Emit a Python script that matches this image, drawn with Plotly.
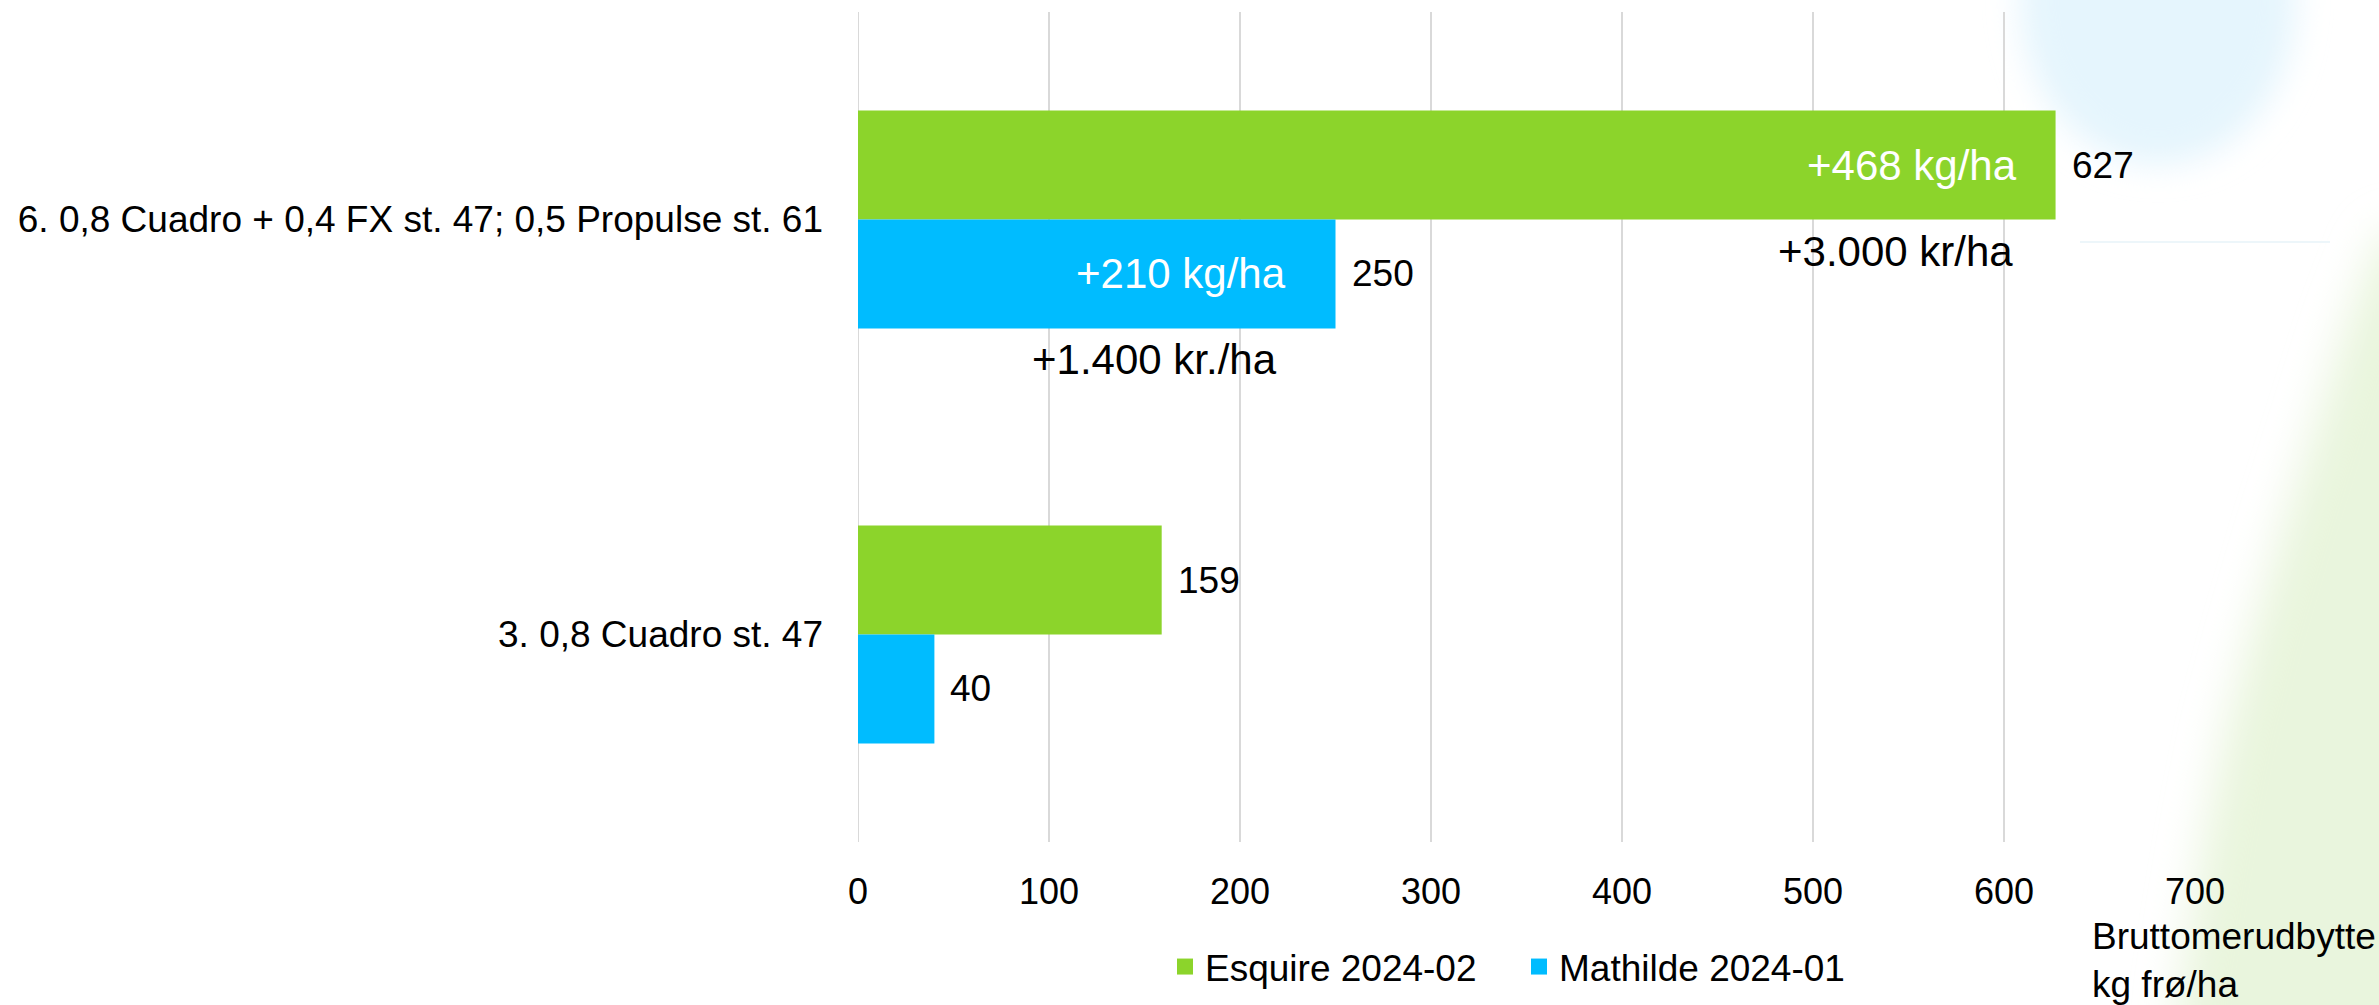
import base64
import plotly.graph_objects as go

# ---------------- data ----------------
categories = ["6. 0,8 Cuadro + 0,4 FX st. 47; 0,5 Propulse st. 61", "3. 0,8 Cuadro st. 47"]
series_names = ["Esquire 2024-02", "Mathilde 2024-01"]
esquire_values = [627, 159]
mathilde_values = [250, 40]
esquire_gain_labels = ["+468 kg/ha", ""]
mathilde_gain_labels = ["+210 kg/ha", ""]
esquire_kr_labels = ["+3.000 kr/ha", ""]
mathilde_kr_labels = ["+1.400 kr./ha", ""]
x_ticks = [0, 100, 200, 300, 400, 500, 600, 700]
x_title_lines = ["Bruttomerudbytte", "kg frø/ha"]

# ---------------- style ----------------
W, H = 2379, 1005
ML, MR, MT, MB = 858, 184, 12, 163
PW = W - ML - MR
PH = H - MT - MB
GREEN = "#8CD42B"
BLUE = "#00BCFF"
GRID = "#D9D9D9"
FONT = "Arial, 'Liberation Sans', Helvetica, sans-serif"
BARGAP = 0.475

series = [
    (series_names[0], esquire_values, GREEN, esquire_gain_labels, esquire_kr_labels),
    (series_names[1], mathilde_values, BLUE, mathilde_gain_labels, mathilde_kr_labels),
]

fig = go.Figure()
for name, vals, color, _, _ in series:
    fig.add_trace(go.Bar(
        y=categories, x=vals, orientation="h", name=name,
        marker=dict(color=color, line=dict(width=0)),
        showlegend=False, hoverinfo="skip",
    ))
# legend entries with square symbols
for name, _, color, _, _ in series:
    fig.add_trace(go.Scatter(
        x=[None], y=[None], mode="markers", name=name,
        marker=dict(symbol="square", size=19, color=color, line=dict(width=0)),
        showlegend=True, hoverinfo="skip",
    ))

annotations = []
bar_w = (1 - BARGAP) / 2
for k, (name, vals, color, gains, krs) in enumerate(series):
    off = (k - 0.5) * bar_w
    for i, v in enumerate(vals):
        yc = i + off
        annotations.append(dict(
            x=v, y=yc, xref="x", yref="y", text=str(v), showarrow=False,
            xanchor="left", yanchor="middle", xshift=14,
            font=dict(family=FONT, size=37, color="#000000"),
        ))
        if gains[i]:
            annotations.append(dict(
                x=v, y=yc, xref="x", yref="y", text=gains[i], showarrow=False,
                xanchor="right", yanchor="middle", xshift=-37 if k == 0 else -48,
                font=dict(family=FONT, size=42, color="#FFFFFF"),
            ))
        if krs[i]:
            annotations.append(dict(
                x=v, y=yc, xref="x", yref="y", text=krs[i], showarrow=False,
                xanchor="right", yanchor="middle", xshift=-41 if k == 0 else -57,
                yshift=-86,
                font=dict(family=FONT, size=42, color="#000000"),
            ))

# axis title at bottom right
annotations.append(dict(
    x=(2090 - ML) / PW, y=(MT + PH - 960) / PH, xref="paper", yref="paper",
    text="<br>".join(x_title_lines), showarrow=False, align="left",
    xanchor="left", yanchor="middle",
    font=dict(family=FONT, size=37, color="#000000"),
))

# soft background decorations
svg = f"""<svg xmlns='http://www.w3.org/2000/svg' width='{W}' height='{H}' viewBox='0 0 {W} {H}'>
<defs>
<filter id='b1' x='-50%' y='-50%' width='200%' height='200%'><feGaussianBlur stdDeviation='16'/></filter>
<filter id='b2' x='-50%' y='-50%' width='200%' height='200%'><feGaussianBlur stdDeviation='22'/></filter>
</defs>
<ellipse cx='2158' cy='0' rx='138' ry='165' fill='#E5F5FD' filter='url(#b1)'/>
<path d='M2395 230 L2379 240 L2345 330 L2317 420 L2282 530 L2252 632 L2226 730 L2207 825 L2192 915 L2178 1005 L2178 1060 L2450 1060 L2450 230 Z' fill='#E9F5DD' filter='url(#b2)'/>
<line x1='2080' y1='242' x2='2330' y2='242' stroke='#EDF6FA' stroke-width='2'/>
</svg>"""
src = "data:image/svg+xml;base64," + base64.b64encode(svg.encode("utf-8")).decode("ascii")

fig.update_layout(
    width=W, height=H,
    margin=dict(l=ML, r=MR, t=MT, b=MB, pad=0, autoexpand=False),
    paper_bgcolor="#FFFFFF", plot_bgcolor="rgba(0,0,0,0)",
    barmode="group", bargap=BARGAP, bargroupgap=0,
    font=dict(family=FONT, size=37, color="#000000"),
    showlegend=True,
    legend=dict(
        orientation="h", x=(1165 - ML) / PW, xanchor="left",
        y=(MT + PH - 967) / PH, yanchor="middle",
        font=dict(family=FONT, size=37, color="#000000"),
        bgcolor="rgba(0,0,0,0)", entrywidth=309, itemsizing="trace",
    ),
    xaxis=dict(
        range=[0, 700], tickvals=x_ticks, ticktext=[str(t) for t in x_ticks],
        showgrid=True, gridcolor=GRID, gridwidth=2, zeroline=False,
        showline=False, ticks="", tickfont=dict(family=FONT, size=36, color="#000000"),
        ticklabelstandoff=25, fixedrange=True, automargin=False,
    ),
    yaxis=dict(
        type="category", categoryorder="array", categoryarray=categories,
        autorange="reversed", showgrid=False, zeroline=False, showline=False,
        ticks="", tickfont=dict(family=FONT, size=37, color="#000000"),
        ticklabelstandoff=34, fixedrange=True, automargin=False,
    ),
    shapes=[dict(
        type="line", xref="x", yref="paper", x0=x_ticks[0], x1=x_ticks[0], y0=0, y1=1,
        line=dict(color=GRID, width=2), layer="below",
    )],
    annotations=annotations,
    images=[dict(
        source=src, xref="paper", yref="paper",
        x=-ML / PW, y=(PH + MT) / PH, sizex=W / PW, sizey=H / PH,
        xanchor="left", yanchor="top", sizing="stretch", layer="below", opacity=1,
    )],
)

fig.write_html("out.html", config={"displayModeBar": False},
               post_script="document.body.style.margin='0';document.body.style.overflow='hidden';")
